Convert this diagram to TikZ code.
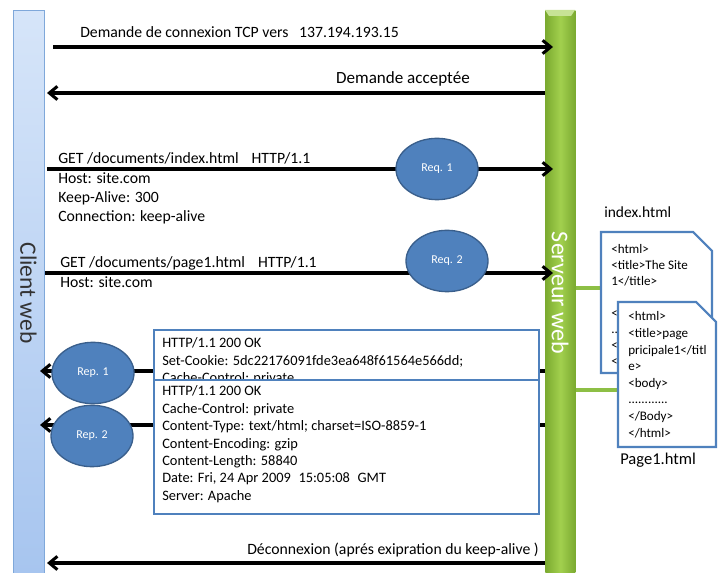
\documentclass[tikz,border=0pt]{standalone}
\usepackage{fontspec}
\setmainfont{Carlito}
\usetikzlibrary{shapes.geometric,arrows.meta}
\definecolor{obl}{HTML}{4F81BD}
\definecolor{obld}{HTML}{3A5F8C}
\definecolor{grnL}{HTML}{A2D04E}
\definecolor{grnD}{HTML}{7BAA30}
\definecolor{grnC}{HTML}{8DBF45}
\definecolor{cliT}{HTML}{D6E5F9}
\definecolor{cliB}{HTML}{A7C5EF}
\definecolor{cliE}{HTML}{7FA8DA}
\newcommand\dotrow{............}
\begin{document}
\begin{tikzpicture}[x=0.75pt,y=-0.75pt,
  msg/.style={line width=2.3pt,-{Straight Barb[length=6pt,width=10pt]}},
  bubble/.style={ellipse,fill=obl,draw=obld,line width=1pt,text=white,
    minimum width=61.5pt,minimum height=46pt,inner sep=0pt,font=\fontsize{9}{10}\selectfont},
  lbl/.style={anchor=base west,inner sep=0pt,font=\fontsize{11.8}{13}\selectfont},
  boxtxt/.style={anchor=base west,inner sep=0pt,font=\fontsize{10.8}{12}\selectfont},
  doctxt/.style={anchor=base west,inner sep=0pt,font=\fontsize{9.8}{11}\selectfont},
  respbox/.style={draw=obl,fill=white,line width=1.6pt,rectangle,inner sep=0pt,anchor=north west},
  docshape/.style={draw=obl,fill=white,line width=1.6pt,line join=miter},
  glink/.style={draw=grnC,line width=3pt}]
\useasboundingbox (0,0) rectangle (718,573);

% bars
\node[draw=cliE,line width=0.8pt,top color=cliT,bottom color=cliB,rectangle,
  minimum width=23.25pt,minimum height=422.25pt,inner sep=0pt,anchor=north west] (client) at (13,10) {};
\node[rotate=-90,font=\fontsize{17.6}{20}\selectfont,text=black!80] (clientlbl) at (28.5,293) {Client web};
\node[left color=grnD,right color=grnD,middle color=grnL,rectangle,
  minimum width=22.5pt,minimum height=422.25pt,inner sep=0pt,anchor=north west] (server) at (545,10) {};
\fill[grnL!60!white] (545,10) -- (575,10) -- (571,16) -- (549,16) -- cycle;
\node[rotate=-90,font=\fontsize{18}{20}\selectfont,text=white] (serverlbl) at (560,293) {Serveur web};

% coordinates for message ends
\coordinate (c1) at (53,47);   \coordinate (s1) at (553,47);
\coordinate (s2) at (545,93);  \coordinate (c2) at (47,93);
\coordinate (c3) at (47,169);  \coordinate (s3) at (553,169);
\coordinate (c4) at (45,273);  \coordinate (s4) at (553,273);
\coordinate (s5) at (545,371); \coordinate (c5) at (40,371);
\coordinate (s6) at (545,425); \coordinate (c6) at (40,425);
\coordinate (s7) at (545,563); \coordinate (c7) at (47,563);

\draw[msg] (c1) -- (s1);
\draw[msg] (s2) -- (c2);
\draw[msg] (c3) -- (s3);
\draw[msg] (c4) -- (s4);
\draw[msg] (s5) -- (c5);
\draw[msg] (s6) -- (c6);
\draw[msg] (s7) -- (c7);

% labels
\node[lbl] (t1) at (80,38) {Demande de connexion TCP vers\hspace{0.45em} 137.194.193.15};
\node[lbl,anchor=base east,font=\fontsize{12.8}{14}\selectfont] (t2) at (470,84) {Demande acceptée};
\foreach \t [count=\i] in {GET /documents/index.html\hspace{0.6em} HTTP/1.1,Host: site.com,Keep-Alive: 300,Connection: keep-alive}
  \node[lbl] (rq1l\i) at (58,{164+19.3*(\i-1)}) {\t};
\node[lbl] (rq2l1) at (60,268) {GET /documents/page1.html\hspace{0.6em} HTTP/1.1};
\node[lbl] (rq2l2) at (60,288) {Host: site.com};
\node[lbl] (t7) at (247,555) {Déconnexion (aprés exipration du keep-alive )};

% request bubbles
\node[bubble] (req1) at (437,169) {Req. 1};
\node[bubble] (req2) at (447,261) {Req. 2};

% response boxes
\node[respbox,minimum width=288.75pt,minimum height=113pt] (box1) at (153,329) {};
\foreach \t [count=\i] in {HTTP/1.1 200 OK,Set-Cookie: 5dc22176091fde3ea648f61564e566dd;,Cache-Control: private}
  \node[boxtxt] (b1l\i) at (162,{348+17.3*(\i-1)}) {\t};
\node[respbox,minimum width=288.75pt,minimum height=100.5pt] (box2) at (153,379) {};
\foreach \t [count=\i] in {HTTP/1.1 200 OK,Cache-Control: private,Content-Type: text/html; charset=ISO-8859-1,Content-Encoding: gzip,Content-Length: 58840,{Date: Fri, 24 Apr 2009\hspace{0.3em} 15:05:08\hspace{0.3em} GMT},Server: Apache}
  \node[boxtxt] (b2l\i) at (162,{396+17.4*(\i-1)}) {\t};

% response bubbles
\node[bubble] (rep1) at (93,373) {Rep. 1};
\node[bubble] (rep2) at (92,436) {Rep. 2};

% documents
\coordinate (d1w) at (601,288);
\coordinate (d2w) at (618,390);
\draw[glink] (server.east |- d1w) -- (d1w);
\draw[glink] (server.east |- d2w) -- (d2w);
\node[anchor=base west,inner sep=0pt,font=\fontsize{11.6}{13}\selectfont] (idxlbl) at (604,218) {index.html};
\draw[docshape] (601,232) -- (693,232) -- (712,251) -- (712,373) -- (601,373) -- cycle;
\foreach \t [count=\i] in {<html>,<title>The Site,1</title>,{},<,..,<,<}
  \node[doctxt] (d1l\i) at (611,{254+16*(\i-1)}) {\t};
\draw[docshape] (618,302) -- (696,302) -- (716,322) -- (716,447) -- (618,447) -- cycle;
\foreach \t [count=\i] in {<html>,<title>page,pricipale1</titl,e>,<body>,\dotrow,</Body>,</html>}
  \node[doctxt] (d2l\i) at (628,{321+16.6*(\i-1)}) {\t};
\node[anchor=base west,inner sep=0pt,font=\fontsize{12.4}{14}\selectfont] (p1lbl) at (620,465) {Page1.html};
\end{tikzpicture}
\end{document}
